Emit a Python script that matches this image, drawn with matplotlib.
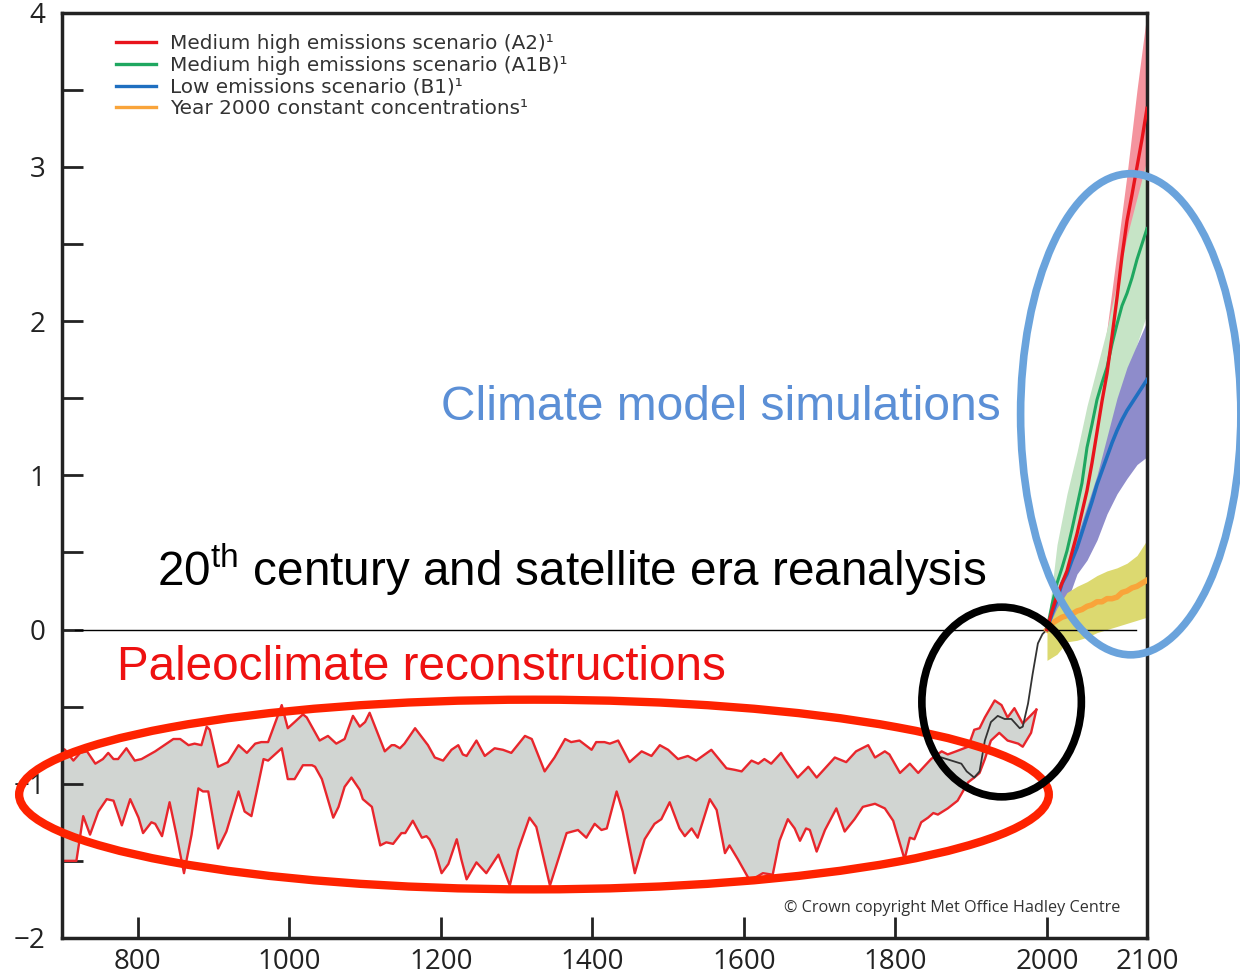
import matplotlib
matplotlib.use("Agg")
import matplotlib.pyplot as plt
from matplotlib.patches import Ellipse
from matplotlib.lines import Line2D
import numpy as np

plt.rcParams['font.family'] = ['Open Sans', 'DejaVu Sans']
plt.rcParams['mathtext.fontset'] = 'custom'
plt.rcParams['mathtext.rm'] = 'Liberation Sans'

# paleoclimate reconstruction envelope (upper / lower edges)
paleo_up_yr = [700, 704, 715, 724, 733, 744, 754, 761, 768, 774, 785, 796, 805, 823, 847, 856, 867, 875, 884, 891,
               895, 906, 919, 933, 944, 955, 963, 972, 981, 990, 998, 1007, 1018, 1023, 1040, 1051, 1062, 1073, 1084,
               1093, 1100, 1106, 1126, 1135, 1139, 1146, 1152, 1166, 1183, 1192, 1203, 1214, 1223, 1229, 1234, 1247,
               1258, 1271, 1282, 1293, 1311, 1320, 1337, 1350, 1364, 1372, 1383, 1399, 1405, 1416, 1423, 1434, 1449,
               1465, 1478, 1489, 1500, 1513, 1526, 1537, 1557, 1577, 1588, 1597, 1610, 1619, 1627, 1636, 1649, 1654,
               1671, 1685, 1696, 1720, 1735, 1748, 1764, 1773, 1786, 1792, 1806, 1819, 1830, 1847, 1861, 1869, 1880,
               1896, 1904, 1911, 1918, 1931, 1940, 1948, 1957, 1968, 1986]
paleo_up_t = [-0.77, -0.78, -0.85, -0.80, -0.79, -0.87, -0.84, -0.80, -0.84, -0.84, -0.77, -0.85, -0.84, -0.79, -0.71,
              -0.71, -0.75, -0.74, -0.75, -0.63, -0.65, -0.89, -0.86, -0.75, -0.80, -0.74, -0.73, -0.73, -0.61, -0.49,
              -0.64, -0.60, -0.55, -0.57, -0.72, -0.69, -0.74, -0.71, -0.56, -0.63, -0.60, -0.54, -0.79, -0.75, -0.75,
              -0.77, -0.74, -0.64, -0.75, -0.83, -0.85, -0.78, -0.75, -0.81, -0.82, -0.72, -0.82, -0.77, -0.78, -0.80,
              -0.69, -0.71, -0.92, -0.83, -0.71, -0.73, -0.72, -0.78, -0.73, -0.73, -0.74, -0.72, -0.86, -0.79, -0.82,
              -0.75, -0.78, -0.84, -0.82, -0.85, -0.78, -0.90, -0.91, -0.92, -0.85, -0.87, -0.84, -0.87, -0.80, -0.84,
              -0.96, -0.89, -0.96, -0.83, -0.86, -0.79, -0.75, -0.83, -0.79, -0.81, -0.93, -0.87, -0.93, -0.84, -0.79,
              -0.81, -0.79, -0.76, -0.65, -0.64, -0.57, -0.46, -0.49, -0.57, -0.51, -0.61, -0.52]
paleo_lo_yr = [700, 719, 728, 737, 748, 759, 768, 779, 790, 801, 807, 818, 823, 832, 842, 851, 861, 871, 880, 886, 893,
               906, 917, 933, 941, 950, 957, 966, 972, 990, 998, 1007, 1018, 1030, 1034, 1043, 1058, 1065, 1073, 1082,
               1093, 1097, 1109, 1120, 1128, 1137, 1148, 1153, 1163, 1175, 1181, 1185, 1192, 1201, 1210, 1221, 1227,
               1234, 1247, 1260, 1276, 1291, 1302, 1317, 1326, 1344, 1366, 1381, 1392, 1403, 1412, 1419, 1432, 1440,
               1456, 1469, 1482, 1491, 1502, 1515, 1522, 1531, 1539, 1555, 1564, 1575, 1581, 1592, 1608, 1625, 1638,
               1647, 1658, 1667, 1674, 1682, 1687, 1696, 1707, 1722, 1733, 1746, 1757, 1773, 1786, 1797, 1806, 1812,
               1819, 1825, 1834, 1843, 1850, 1856, 1869, 1882, 1896, 1904, 1911, 1918, 1926, 1937, 1948, 1962, 1968,
               1979, 1986]
paleo_lo_t = [-1.50, -1.50, -1.21, -1.33, -1.18, -1.10, -1.11, -1.27, -1.10, -1.22, -1.32, -1.25, -1.26, -1.34, -1.12,
              -1.33, -1.58, -1.33, -1.03, -1.05, -1.05, -1.42, -1.31, -1.05, -1.18, -1.21, -1.05, -0.84, -0.85, -0.77,
              -0.97, -0.97, -0.88, -0.88, -0.89, -0.97, -1.22, -1.15, -1.02, -0.96, -1.04, -1.10, -1.15, -1.40, -1.38,
              -1.39, -1.32, -1.32, -1.24, -1.35, -1.34, -1.36, -1.43, -1.58, -1.52, -1.36, -1.49, -1.62, -1.51, -1.58,
              -1.46, -1.66, -1.43, -1.22, -1.28, -1.66, -1.32, -1.30, -1.35, -1.26, -1.30, -1.29, -1.05, -1.18, -1.58,
              -1.36, -1.26, -1.23, -1.12, -1.29, -1.34, -1.29, -1.35, -1.10, -1.17, -1.45, -1.40, -1.49, -1.63, -1.58,
              -1.59, -1.37, -1.23, -1.29, -1.37, -1.29, -1.30, -1.44, -1.30, -1.16, -1.31, -1.23, -1.15, -1.13, -1.16,
              -1.24, -1.39, -1.49, -1.35, -1.36, -1.25, -1.22, -1.19, -1.20, -1.16, -1.11, -0.99, -0.96, -0.93, -0.84,
              -0.72, -0.67, -0.72, -0.74, -0.76, -0.67, -0.52]

# 20th century / satellite era reanalysis
rean_yr = [1861, 1874, 1887, 1894, 1904, 1911, 1918, 1926, 1935, 1944, 1953, 1964, 1968, 1975, 1981, 1988, 1994, 2000]
rean_t = [-0.83, -0.85, -0.87, -0.92, -0.96, -0.92, -0.72, -0.60, -0.56, -0.58, -0.58, -0.64, -0.63, -0.48, -0.29,
          -0.09, -0.03, 0.0]

# model projections
fut_yr = [2000, 2005, 2010, 2015, 2020, 2025, 2030, 2035, 2040, 2045, 2050, 2055, 2060, 2065, 2070, 2075, 2080, 2085,
          2090, 2095, 2100]
a2_t = [0.0, 0.12, 0.22, 0.30, 0.38, 0.50, 0.62, 0.76, 0.90, 1.08, 1.28, 1.48, 1.66, 1.90, 2.15, 2.42, 2.65, 2.82,
        3.00, 3.18, 3.38]
a1b_t = [0.0, 0.16, 0.30, 0.40, 0.51, 0.65, 0.80, 0.95, 1.18, 1.33, 1.49, 1.60, 1.70, 1.85, 1.98, 2.10, 2.18, 2.28,
         2.40, 2.50, 2.60]
b1_t = [0.0, 0.10, 0.19, 0.30, 0.36, 0.45, 0.53, 0.63, 0.73, 0.83, 0.94, 1.03, 1.12, 1.21, 1.29, 1.36, 1.42, 1.47,
        1.52, 1.57, 1.62]
const_t = [0.0, 0.04, 0.06, 0.08, 0.09, 0.10, 0.12, 0.13, 0.15, 0.16, 0.18, 0.18, 0.20, 0.20, 0.21, 0.24, 0.25, 0.27,
           0.28, 0.30, 0.32]

band_yr = [2000, 2010, 2020, 2030, 2040, 2050, 2060, 2070, 2080, 2090, 2100]
a2_hi = [0.0, 0.30, 0.60, 0.90, 1.20, 1.55, 1.95, 2.45, 2.95, 3.50, 4.00]
a2_lo = [0.0, 0.12, 0.30, 0.50, 0.72, 0.98, 1.30, 1.65, 2.00, 2.40, 2.75]
a1b_hi = [0.0, 0.55, 0.88, 1.15, 1.45, 1.70, 1.95, 2.25, 2.55, 2.80, 3.05]
a1b_lo = [0.0, 0.10, 0.30, 0.50, 0.70, 0.95, 1.20, 1.45, 1.65, 1.85, 2.05]
b1_hi = [0.0, 0.20, 0.40, 0.60, 0.80, 1.00, 1.25, 1.50, 1.70, 1.85, 2.00]
b1_lo = [0.0, 0.05, 0.18, 0.36, 0.45, 0.58, 0.75, 0.88, 0.98, 1.07, 1.12]
const_hi = [0.0, 0.14, 0.24, 0.28, 0.31, 0.35, 0.38, 0.40, 0.43, 0.48, 0.58]
const_lo = [-0.20, -0.16, -0.08, -0.07, -0.05, -0.02, 0.0, 0.02, 0.04, 0.06, 0.08]

legend_labels = ['Medium high emissions scenario (A2)\u00b9', 'Medium high emissions scenario (A1B)\u00b9',
                 'Low emissions scenario (B1)\u00b9', 'Year 2000 constant concentrations\u00b9']
xtick_vals = [800, 1000, 1200, 1400, 1600, 1800, 2000, 2100]
ytick_vals = [-2, -1, 0, 1, 2, 3, 4]

# future part of the axis is stretched in the original figure
K = 1.32
def fwd(x):
    x = np.asarray(x, dtype=float)
    return np.where(x <= 2000, x, 2000 + (x - 2000) * K)
def inv(x):
    x = np.asarray(x, dtype=float)
    return np.where(x <= 2000, x, 2000 + (x - 2000) / K)

fig = plt.figure(figsize=(12.4, 9.76), dpi=100)
ax = fig.add_axes([0.05, 0.039, 0.875, 0.948])
ax.set_xscale('function', functions=(fwd, inv))
ax.set_xlim(700, 2100)
ax.set_ylim(-2, 4)

# paleo envelope
poly_x = np.r_[paleo_up_yr, paleo_lo_yr[::-1]]
poly_y = np.r_[paleo_up_t, paleo_lo_t[::-1]]
ax.fill(poly_x, poly_y, color='#d1d5d2', lw=0, zorder=1)
ax.plot(paleo_up_yr, paleo_up_t, color='#e8262c', lw=1.7, zorder=2, solid_joinstyle='round')
ax.plot(paleo_lo_yr, paleo_lo_t, color='#e8262c', lw=1.7, zorder=2, solid_joinstyle='round')
ax.plot(rean_yr, rean_t, color='#333333', lw=1.3, zorder=3)

# projection bands
ax.fill_between(band_yr, a2_lo, a2_hi, color='#f4949e', lw=0, zorder=2)
ax.fill_between(band_yr, a1b_lo, a1b_hi, color='#c6e4c6', lw=0, zorder=2)
ax.fill_between(band_yr, b1_lo, b1_hi, color='#8e8ccb', lw=0, zorder=2)
ax.fill_between(band_yr, const_lo, const_hi, color='#dcd970', lw=0, zorder=2)

ax.axhline(0, xmin=0.012, xmax=0.99, color='black', lw=1.0, zorder=2.5)

ax.plot(fut_yr, const_t, color='#f9a43a', lw=4, zorder=3)
ax.plot(fut_yr, b1_t, color='#1f6fc0', lw=2.6, zorder=3)
ax.plot(fut_yr, a1b_t, color='#1fa760', lw=2.2, zorder=3)
ax.plot(fut_yr, a2_t, color='#e8141c', lw=2.4, zorder=3)

handles = [Line2D([], [], color=c, lw=2.4) for c in ['#e8141c', '#1fa760', '#1f6fc0', '#f9a43a']]
ax.legend(handles, legend_labels, loc='upper left', bbox_to_anchor=(0.033, 0.996), frameon=False,
          prop={'family': 'DejaVu Sans', 'size': 14.4}, handlelength=2.0, handletextpad=0.7, labelspacing=0.13,
          labelcolor='#333333')

# axes styling
for s in ax.spines.values():
    s.set_linewidth(2.5)
    s.set_color('#222222')
ax.set_xticks(xtick_vals)
ax.set_xticklabels([str(v) for v in xtick_vals])
ax.xaxis.get_major_ticks()[-1].tick1line.set_visible(False)
ax.set_yticks(ytick_vals)
ax.set_yticklabels(['\u22122', '\u22121', '0', '1', '2', '3', '4'])
ax.set_yticks(np.arange(-1.5, 4, 1.0), minor=True)
ax.tick_params(axis='both', which='both', direction='in', length=15, width=2, color='#222222', labelsize=20,
               labelcolor='#222222')
ax.tick_params(axis='x', pad=7)
ax.tick_params(axis='y', pad=12)
ax.tick_params(top=False, right=False, which='both')

# annotations
ax.text(0.349, 0.573, 'Climate model simulations', transform=ax.transAxes, color='#5b8fd6', fontsize=34.5,
        family='Liberation Sans', ha='left', va='center')
ax.text(0.088, 0.398, '20$^{\\mathrm{th}}$ century and satellite era reanalysis', transform=ax.transAxes,
        color='black', fontsize=34.3, family='Liberation Sans', ha='left', va='center')
ax.text(0.051, 0.292, 'Paleoclimate reconstructions', transform=ax.transAxes, color='#ee1111', fontsize=34.3,
        family='Liberation Sans', ha='left', va='center')
ax.text(0.975, 0.032, '\u00a9 Crown copyright Met Office Hadley Centre', transform=ax.transAxes, color='#333333',
        fontsize=11.7, ha='right', va='center')

ax.add_patch(Ellipse((0.435, 0.155), 0.949, 0.205, transform=ax.transAxes, fill=False, ec='#fe2200', lw=6,
                     clip_on=False, zorder=5))
ax.add_patch(Ellipse((0.866, 0.255), 0.147, 0.205, transform=ax.transAxes, fill=False, ec='black', lw=5.5,
                     clip_on=False, zorder=5))
ax.add_patch(Ellipse((0.985, 0.566), 0.203, 0.52, transform=ax.transAxes, fill=False, ec='#6aa3dc', lw=5.5,
                     clip_on=False, zorder=5))

plt.savefig('out.png', dpi=100)
